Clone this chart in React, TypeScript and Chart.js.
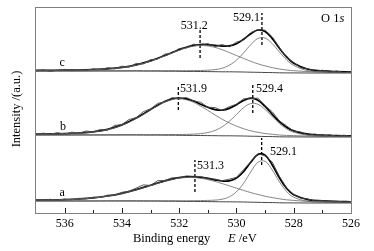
import React, { useEffect, useRef } from "react";
import { Chart, registerables } from "chart.js";

Chart.register(...registerables);

const FONT = '"Liberation Serif", "Times New Roman", serif';

// Binding energy grid (eV) for the fitted curves
const energyGrid = [537, 536.5, 536, 535.5, 535, 534.5, 534, 533.5, 533, 532.75, 532.5, 532.25, 532, 531.75, 531.5, 531.25, 531, 530.75, 530.5, 530.25, 530, 529.75, 529.5, 529.25, 529, 528.75, 528.5, 528.25, 528, 527.5, 527, 526.5, 526];
// Binding energy grid (eV) for the measured spectra
const rawGrid = [537, 536.75, 536.5, 536.25, 536, 535.75, 535.5, 535.25, 535, 534.75, 534.5, 534.25, 534, 533.75, 533.5, 533.25, 533, 532.75, 532.5, 532.25, 532, 531.75, 531.5, 531.25, 531, 530.75, 530.5, 530.25, 530, 529.75, 529.5, 529.25, 529, 528.75, 528.5, 528.25, 528, 527.75, 527.5, 527.25, 527, 526.75, 526.5, 526.25, 526];

// Vertical offsets of the stacked spectra (a.u.)
const offsetA = 11;
const offsetB = 77;
const offsetC = 141;

// Shirley-type background rise above the offset
const bgRise = [2, 2, 2, 2, 2, 2, 2, 2, 1.9, 1.9, 1.8, 1.8, 1.7, 1.6, 1.6, 1.5, 1.4, 1.3, 1.2, 1.2, 1.1, 1.0, 0.8, 0.7, 0.5, 0.4, 0.2, 0.1, 0.1, 0, 0, 0, 0];

// Sample a
const rawA = [3.3, 2.5, 3.7, 2.9, 3.9, 3.1, 4.7, 4.1, 5.9, 5.5, 7.9, 8.0, 10.7, 11.8, 14.9, 18.1, 17.5, 22.3, 22.5, 25.2, 25.1, 27.1, 26.7, 26.5, 24.2, 23.9, 22.3, 23.8, 25.7, 33.4, 41.2, 49.3, 47.1, 41.0, 26.7, 15.3, 8.5, 4.9, 3.9, 2.1, 2.5, 1.3, 1.9, 0.9, 1.5];
const peak1A = [0.8, 1.0, 1.3, 1.9, 3.0, 4.8, 7.5, 11.2, 15.5, 17.8, 19.9, 21.7, 23.1, 23.9, 23.9, 23.3, 22.0, 20.3, 18.2, 16.0, 13.7, 11.6, 9.6, 7.8, 6.3, 5.0, 4.0, 3.1, 2.5, 1.6, 1.1, 0.9, 0.7];
const peak2A = [0.1, 0.1, 0.1, 0.1, 0.1, 0.2, 0.2, 0.2, 0.3, 0.3, 0.4, 0.4, 0.5, 0.6, 0.7, 0.9, 1.2, 1.6, 2.6, 5.0, 10.1, 18.8, 30.3, 40.0, 41.1, 32.6, 21.0, 11.5, 5.7, 1.8, 1.0, 0.6, 0.5];

// Sample b
const rawB = [2.3, 3.9, 2.7, 4.4, 2.9, 4.9, 3.7, 6.0, 5.0, 7.6, 6.8, 11.6, 12.4, 17.5, 19.3, 25.4, 28.1, 33.6, 35.1, 39.3, 38.0, 39.5, 36.2, 34.7, 29.8, 29.4, 26.5, 30.4, 32.7, 38.2, 38.3, 38.9, 31.5, 25.2, 16.1, 11.1, 5.7, 5.0, 1.9, 3.0, 0.8, 2.3, 0.6, 1.8, 0.7];
const peak1B = [0.8, 1.0, 1.3, 1.8, 3.0, 5.4, 9.8, 16.6, 25.2, 29.4, 33.1, 35.6, 36.5, 35.6, 33.1, 29.4, 25.2, 20.8, 16.6, 12.9, 9.8, 7.3, 5.4, 4.0, 3.0, 2.3, 1.8, 1.5, 1.3, 1.0, 0.8, 0.7, 0.6];
const peak2B = [0.1, 0.1, 0.1, 0.2, 0.2, 0.2, 0.3, 0.3, 0.4, 0.5, 0.6, 0.7, 0.8, 1.0, 1.3, 1.9, 3.1, 5.3, 9.0, 14.5, 21.4, 28.3, 32.6, 32.0, 27.0, 20.0, 13.3, 8.1, 4.7, 1.8, 1.0, 0.7, 0.5];

// Sample c
const rawC = [2.1, 3.2, 1.7, 2.9, 3.6, 2.2, 3.4, 2.5, 4.3, 3.2, 5.4, 4.1, 6.8, 5.9, 9.6, 9.1, 13.4, 13.9, 18.9, 19.8, 24.5, 25.1, 28.8, 27.8, 29.3, 26.4, 28.5, 26.2, 30.9, 33.0, 40.4, 43.5, 42.8, 36.2, 25.4, 15.2, 10.5, 5.1, 4.3, 1.6, 2.8, 0.7, 2.0, 0.3, 1.5];
const peak1C = [0.5, 0.6, 0.7, 0.9, 1.3, 2.0, 3.4, 5.9, 9.9, 12.5, 15.3, 18.2, 21.0, 23.5, 25.2, 26.0, 25.6, 24.3, 22.1, 19.3, 16.4, 13.6, 10.9, 8.5, 6.6, 5.0, 3.8, 2.9, 2.2, 1.4, 1.0, 0.7, 0.6];
const peak2C = [0.1, 0.1, 0.1, 0.1, 0.2, 0.2, 0.2, 0.3, 0.3, 0.4, 0.4, 0.5, 0.6, 0.7, 0.8, 1.0, 1.4, 2.1, 3.6, 6.6, 11.8, 19.1, 27.5, 33.8, 34.4, 29.0, 20.8, 13.1, 7.5, 2.3, 1.1, 0.7, 0.5];

// Peak positions marked by dashed lines (eV) and their labels
const peakPosA = [531.45, 529.12];
const peakPosB = [532.03, 529.43];
const peakPosC = [531.27, 529.11];
const peakLabelsA = ["531.3", "529.1"];
const peakLabelsB = ["531.9", "529.4"];
const peakLabelsC = ["531.2", "529.1"];
// vertical extent of the dashed markers (a.u.)
const markerSpanA = [[22, 54], [49, 76]];
const markerSpanB = [[104, 127], [101, 129]];
const markerSpanC = [[156, 186], [169, 201]];

// Axis ticks
const majorTicks = [536, 534, 532, 530, 528];
const minorTicks = [535, 533, 531, 529, 527];

// label layout: [energy, intensity, align]
const peakLabelLayout: [number, number, CanvasTextAlign][][] = [
  [[531.38, 48, "left"], [528.83, 62, "left"]],
  [[531.97, 125, "left"], [529.32, 125, "left"]],
  [[531.47, 188, "center"], [529.18, 196, "right"]],
];
const sampleNames = ["a", "b", "c"];
const sampleNamePos = [[536.09, 21], [536.06, 87], [536.09, 151]];

const spectra = [
  { offset: offsetA, raw: rawA, p1: peak1A, p2: peak2A, pos: peakPosA, labels: peakLabelsA, span: markerSpanA },
  { offset: offsetB, raw: rawB, p1: peak1B, p2: peak2B, pos: peakPosB, labels: peakLabelsB, span: markerSpanB },
  { offset: offsetC, raw: rawC, p1: peak1C, p2: peak2C, pos: peakPosC, labels: peakLabelsC, span: markerSpanC },
];

function buildDatasets() {
  const ds: any[] = [];
  spectra.forEach((s) => {
    const bg = energyGrid.map((x, i) => ({ x, y: s.offset + bgRise[i] }));
    const c1 = energyGrid.map((x, i) => ({ x, y: s.offset + bgRise[i] + s.p1[i] }));
    const c2 = energyGrid.map((x, i) => ({ x, y: s.offset + bgRise[i] + s.p2[i] }));
    const env = energyGrid.map((x, i) => ({ x, y: s.offset + bgRise[i] + s.p1[i] + s.p2[i] }));
    const raw = rawGrid.map((x, i) => ({ x, y: s.offset + s.raw[i] }));
    ds.push({ data: bg, borderColor: "#444", borderWidth: 1, pointRadius: 0, tension: 0.3 });
    ds.push({ data: c1, borderColor: "#666", borderWidth: 0.8, pointRadius: 0, tension: 0.4 });
    ds.push({ data: c2, borderColor: "#666", borderWidth: 0.8, pointRadius: 0, tension: 0.4 });
    ds.push({ data: raw, borderColor: "#444", borderWidth: 0.9, pointRadius: 0, tension: 0 });
    ds.push({ data: env, borderColor: "#000", borderWidth: 1.7, pointRadius: 0, tension: 0.4 });
    s.pos.forEach((p, k) => {
      ds.push({
        data: [{ x: p, y: s.span[k][0] }, { x: p, y: s.span[k][1] }],
        borderColor: "#000",
        borderWidth: 1.3,
        borderDash: [3, 2],
        pointRadius: 0,
      });
    });
  });
  return ds;
}

const decorPlugin = {
  id: "decor",
  afterDraw(chart: any) {
    const { ctx, chartArea: ca, scales } = chart;
    const xs = scales.x;
    const ys = scales.y;
    ctx.save();
    // frame
    ctx.strokeStyle = "#808080";
    ctx.lineWidth = 1;
    ctx.strokeRect(ca.left - 0.5, ca.top + 0.5, ca.right - ca.left + 1, ca.bottom - ca.top - 1);
    // inward ticks
    ctx.strokeStyle = "#222";
    const tick = (v: number, len: number) => {
      const px = Math.round(xs.getPixelForValue(v)) + 0.5;
      ctx.beginPath();
      ctx.moveTo(px, ca.bottom - 1);
      ctx.lineTo(px, ca.bottom - 1 - len);
      ctx.stroke();
    };
    majorTicks.forEach((v) => tick(v, 5));
    minorTicks.forEach((v) => tick(v, 3));

    // texts
    ctx.fillStyle = "#000";
    ctx.textBaseline = "middle";
    ctx.font = `12px ${FONT}`;
    spectra.forEach((s, si) => {
      s.labels.forEach((t, k) => {
        const [e, v, al] = peakLabelLayout[si][k];
        ctx.textAlign = al;
        ctx.fillText(t, xs.getPixelForValue(e), ys.getPixelForValue(v));
      });
      ctx.textAlign = "center";
      ctx.fillText(sampleNames[si], xs.getPixelForValue(sampleNamePos[si][0]), ys.getPixelForValue(sampleNamePos[si][1]));
    });

    // O 1s
    ctx.font = `12.5px ${FONT}`;
    ctx.textAlign = "left";
    const o1 = "O 1";
    const ox = 321;
    ctx.fillText(o1, ox, 19);
    const w1 = ctx.measureText(o1).width;
    ctx.font = `italic 12.5px ${FONT}`;
    ctx.fillText("s", ox + w1, 19);

    // x title
    ctx.font = `12.5px ${FONT}`;
    ctx.fillText("Binding energy", 133, 239);
    ctx.font = `italic 12.5px ${FONT}`;
    ctx.fillText("E", 228, 239);
    const we = ctx.measureText("E").width;
    ctx.font = `12.5px ${FONT}`;
    ctx.fillText(" /eV", 228 + we, 239);

    // y title
    ctx.translate(16.5, 109);
    ctx.rotate(-Math.PI / 2);
    ctx.textAlign = "center";
    ctx.fillText("Intensity /(a.u.)", 0, 0);
    ctx.restore();
  },
};

export default function App() {
  const ref = useRef<HTMLCanvasElement | null>(null);
  useEffect(() => {
    if (!ref.current) return;
    const chart = new Chart(ref.current, {
      type: "line",
      data: { datasets: buildDatasets() },
      options: {
        animation: false,
        responsive: false,
        devicePixelRatio: 1,
        layout: { padding: { left: 36, right: 23, top: 7, bottom: 0 } },
        plugins: { legend: { display: false }, tooltip: { enabled: false } },
        scales: {
          x: {
            type: "linear",
            min: 526,
            max: 537,
            reverse: true,
            afterFit: (s: any) => {
              s.height = 37;
            },
            grid: { display: false, drawTicks: false },
            border: { display: false },
            ticks: {
              stepSize: 1,
              autoSkip: false,
              maxRotation: 0,
              padding: 3,
              color: "#000",
              font: { family: FONT, size: 12 },
              callback: (v: any) => (Number(v) % 2 === 0 ? String(v) : ""),
            },
          },
          y: { display: false, min: 0, max: 207 },
        },
      },
      plugins: [decorPlugin],
    });
    return () => chart.destroy();
  }, []);
  return (
    <div style={{ position: "fixed", left: 0, top: 0, width: 374, height: 251, background: "#fff" }}>
      <canvas ref={ref} width={374} height={251} />
    </div>
  );
}
